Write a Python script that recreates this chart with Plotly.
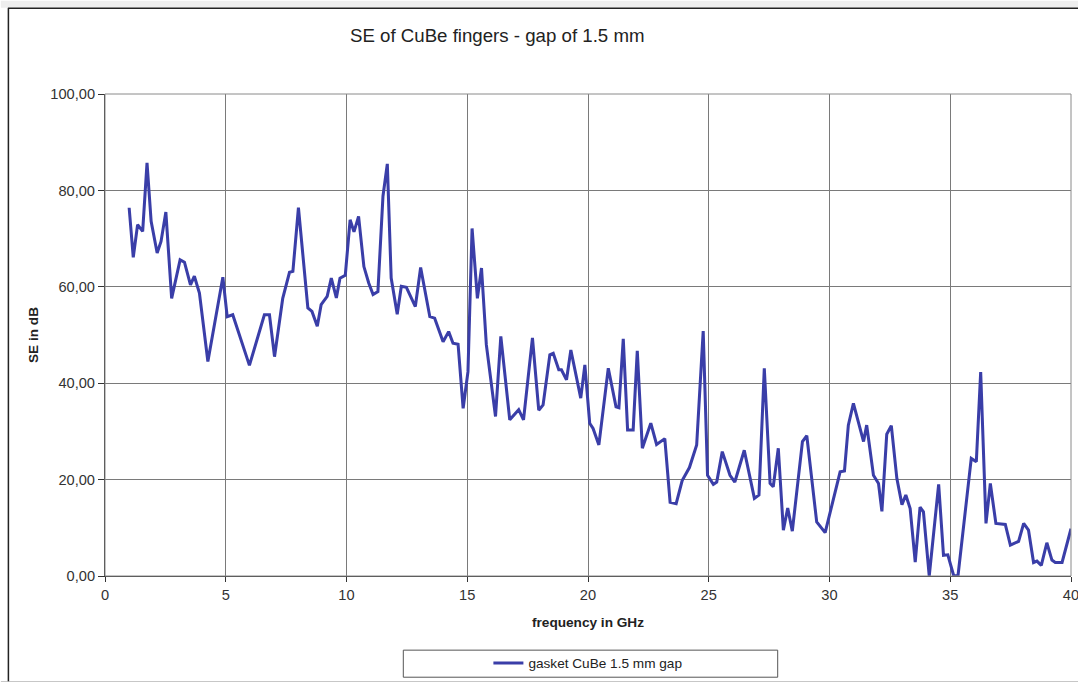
import plotly.graph_objects as go

# Shielding effectiveness of CuBe finger gasket, 1.5 mm gap
freq_ghz = [
    1.00, 1.17, 1.35, 1.56, 1.74, 1.91, 2.16, 2.32, 2.52, 2.76,
    3.11, 3.29, 3.54, 3.70, 3.91, 4.26, 4.88, 5.06, 5.29, 5.98,
    6.60, 6.81, 7.02, 7.36, 7.64, 7.78, 8.01, 8.40, 8.57, 8.79,
    8.95, 9.20, 9.37, 9.58, 9.73, 9.95, 10.15, 10.31, 10.50, 10.72,
    10.92, 11.10, 11.30, 11.51, 11.69, 11.85, 12.10, 12.27, 12.48, 12.85,
    13.07, 13.45, 13.65, 14.00, 14.23, 14.41, 14.62, 14.83, 15.03, 15.20,
    15.42, 15.59, 15.79, 16.17, 16.39, 16.76, 17.13, 17.33, 17.70, 17.96,
    18.14, 18.42, 18.56, 18.79, 18.90, 19.11, 19.29, 19.70, 19.87, 20.07,
    20.21, 20.45, 20.84, 21.16, 21.28, 21.46, 21.64, 21.87, 22.04, 22.25,
    22.60, 22.84, 23.18, 23.40, 23.65, 23.90, 24.20, 24.50, 24.77, 24.95,
    25.19, 25.33, 25.56, 25.88, 26.08, 26.47, 26.89, 27.08, 27.30, 27.54,
    27.67, 27.88, 28.09, 28.27, 28.46, 28.88, 29.06, 29.47, 29.82, 30.44,
    30.62, 30.78, 30.99, 31.41, 31.54, 31.82, 32.03, 32.17, 32.37, 32.56,
    32.79, 33.00, 33.16, 33.34, 33.55, 33.75, 33.89, 34.13, 34.52, 34.72,
    34.90, 35.14, 35.32, 35.87, 36.08, 36.26, 36.48, 36.66, 36.89, 37.28,
    37.49, 37.83, 38.04, 38.24, 38.45, 38.59, 38.77, 39.00, 39.21, 39.35,
    39.63, 40.00,
]
se_db = [
    76.4, 66.1, 72.9, 71.5, 85.7, 73.6, 67.0, 69.4, 75.5, 57.6,
    65.6, 65.1, 60.4, 62.2, 58.7, 44.5, 62.0, 53.8, 54.2, 43.7,
    54.2, 54.2, 45.5, 57.6, 63.0, 63.2, 76.4, 55.6, 54.9, 51.8,
    56.3, 58.0, 61.8, 57.7, 61.8, 62.4, 73.9, 71.4, 74.6, 64.2,
    60.8, 58.4, 59.0, 78.8, 85.5, 61.8, 54.3, 60.1, 59.9, 55.9,
    64.0, 53.8, 53.5, 48.6, 50.7, 48.3, 48.1, 34.8, 42.4, 72.1,
    57.6, 63.9, 48.0, 33.1, 49.7, 32.4, 34.5, 32.4, 49.4, 34.4,
    35.5, 45.9, 46.2, 42.8, 42.8, 40.7, 46.9, 36.9, 43.8, 31.7,
    30.6, 27.2, 43.1, 35.1, 34.9, 49.2, 30.3, 30.3, 46.7, 26.5,
    31.7, 27.3, 28.5, 15.3, 15.0, 19.8, 22.5, 27.2, 50.8, 20.9,
    19.0, 19.5, 25.8, 20.9, 19.5, 26.1, 16.1, 16.8, 43.1, 19.2,
    18.5, 26.5, 9.5, 14.1, 9.3, 27.9, 29.1, 11.2, 9.0, 21.6,
    21.8, 31.3, 35.8, 27.9, 31.3, 20.9, 19.2, 13.4, 29.4, 31.2,
    20.2, 14.8, 16.8, 14.0, 2.9, 14.3, 13.3, 0.0, 19.0, 4.3,
    4.4, 0.1, 0.0, 24.4, 23.7, 42.3, 10.9, 19.2, 10.9, 10.7,
    6.4, 7.2, 10.9, 9.5, 2.8, 3.1, 2.2, 6.9, 3.3, 2.8,
    2.8, 9.8,
]

y_ticks = [0, 20, 40, 60, 80, 100]
y_tick_text = [f"{v:.2f}".replace(".", ",") for v in y_ticks]
x_ticks = [0, 5, 10, 15, 20, 25, 30, 35, 40]

# Layout is specified on a 1078 x 682 design grid and scaled by K
K = 1088 / 1078
DW, DH = 1078, 682
L, R, T, B = 104, 1069, 93, 574  # plot area edges on the design grid
W, H = round(DW * K), round(DH * K)


def px(x):
    return (x - L) / (R - L)


def py(y):
    return (B - y) / (B - T)


def s(v):
    return v * K


FONT = "Liberation Sans, Arial, sans-serif"

fig = go.Figure()
fig.add_trace(go.Scatter(
    x=freq_ghz, y=se_db, mode="lines",
    name="gasket CuBe 1.5 mm gap",
    line=dict(color="#3A3EA8", width=s(3.0)),
))

shapes = [
    # strip above the chart frame
    dict(type="rect", xref="paper", yref="paper", x0=px(0), x1=px(DW), y0=py(0), y1=py(7),
         fillcolor="#eeeeee", line=dict(width=0), layer="below"),
    # strip below the chart frame
    dict(type="rect", xref="paper", yref="paper", x0=px(0), x1=px(DW), y0=py(679), y1=py(DH),
         fillcolor="#b4b4b4", line=dict(width=0), layer="below"),
    # chart frame: top and left edges
    dict(type="line", xref="paper", yref="paper", x0=px(7), x1=px(DW), y0=py(7.5), y1=py(7.5),
         line=dict(color="#222222", width=s(1.5))),
    dict(type="line", xref="paper", yref="paper", x0=px(7.5), x1=px(7.5), y0=py(7.5), y1=py(679),
         line=dict(color="#222222", width=s(1.5))),
    # plot area border
    dict(type="rect", xref="paper", yref="paper", x0=0, x1=1, y0=0, y1=1,
         line=dict(color="#8a8a8a", width=1)),
    # legend box
    dict(type="rect", xref="paper", yref="paper", x0=px(402), x1=px(776), y0=py(648), y1=py(675),
         line=dict(color="#555555", width=1), fillcolor="white"),
]

fig.update_layout(
    width=W, height=H,
    margin=dict(l=s(L), r=s(DW - R), t=s(T), b=s(DH - B)),
    paper_bgcolor="white", plot_bgcolor="white",
    font=dict(family=FONT, color="#222222"),
    showlegend=True,
    legend=dict(
        x=px(487), y=py(661), xanchor="left", yanchor="middle",
        bgcolor="rgba(0,0,0,0)", borderwidth=0,
        font=dict(size=s(13.5), family=FONT, color="#222222"),
    ),
    shapes=shapes,
    annotations=[
        dict(text="SE of CuBe fingers - gap of 1.5 mm", xref="paper", yref="paper",
             x=px(496), y=py(35), xanchor="center", yanchor="middle", showarrow=False,
             font=dict(size=s(18.5), family=FONT, color="#222222")),
    ],
)

fig.update_xaxes(
    range=[0, 40], tickvals=x_ticks, ticktext=[str(v) for v in x_ticks],
    showgrid=True, gridcolor="#7a7a7a", gridwidth=1,
    showline=True, linecolor="#333333", linewidth=1,
    ticks="outside", ticklen=s(5), tickcolor="#333333",
    tickfont=dict(size=s(14.5), color="#333333"), zeroline=False,
    title=dict(text="<b>frequency in GHz</b>", font=dict(size=s(13.5), color="#222222"),
               standoff=s(15)),
)
fig.update_yaxes(
    range=[0, 100], tickvals=y_ticks, ticktext=y_tick_text,
    showgrid=True, gridcolor="#7a7a7a", gridwidth=1,
    showline=True, linecolor="#333333", linewidth=1,
    ticks="outside", ticklen=s(6), tickcolor="#333333",
    tickfont=dict(size=s(14.5), color="#333333"), zeroline=False,
    title=dict(text="<b>SE in dB</b>", font=dict(size=s(13.5), color="#222222"), standoff=s(8)),
)

fig.write_html("out.html")
